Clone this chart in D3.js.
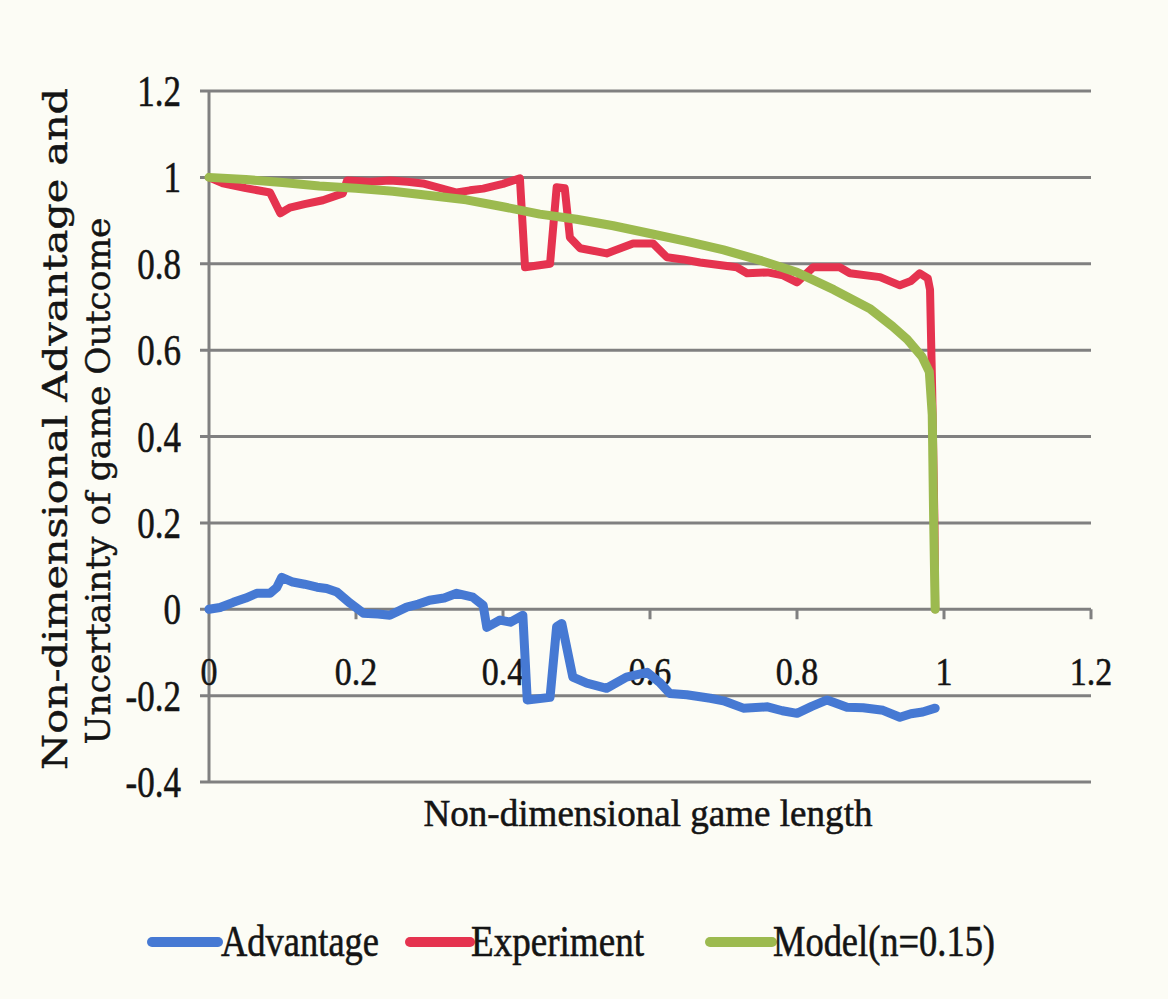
<!DOCTYPE html>
<html>
<head>
<meta charset="utf-8">
<script src="https://cdn.jsdelivr.net/npm/d3@7"></script>
<style>
  html, body { margin: 0; padding: 0; background: #fcfcf5; }
  svg { display: block; }
</style>
</head>
<body>
<svg id="chart" width="1168" height="999"></svg>
<script>
// ---- Data ----
const xTicks = [0, 0.2, 0.4, 0.6, 0.8, 1, 1.2];
const xTickLabels = ["0", "0.2", "0.4", "0.6", "0.8", "1", "1.2"];
const yTicks = [-0.4, -0.2, 0, 0.2, 0.4, 0.6, 0.8, 1, 1.2];
const yTickLabels = ["-0.4", "-0.2", "0", "0.2", "0.4", "0.6", "0.8", "1", "1.2"];

const seriesNames = ["Advantage", "Experiment", "Model(n=0.15)"];

const advantageX = [0, 0.015, 0.033, 0.05, 0.065, 0.083, 0.092, 0.099, 0.114, 0.13, 0.147, 0.16, 0.174, 0.192, 0.21, 0.23, 0.246, 0.269, 0.285, 0.30, 0.32, 0.337, 0.359, 0.373, 0.378, 0.396, 0.41, 0.427, 0.433, 0.464, 0.473, 0.48, 0.495, 0.514, 0.541, 0.568, 0.596, 0.614, 0.627, 0.65, 0.682, 0.70, 0.727, 0.76, 0.78, 0.80, 0.82, 0.841, 0.868, 0.89, 0.917, 0.94, 0.955, 0.971, 0.988];
const advantageY = [0.0, 0.004, 0.016, 0.026, 0.037, 0.037, 0.05, 0.074, 0.063, 0.058, 0.051, 0.048, 0.040, 0.014, -0.009, -0.011, -0.014, 0.005, 0.012, 0.021, 0.026, 0.037, 0.028, 0.009, -0.042, -0.025, -0.03, -0.014, -0.21, -0.204, -0.04, -0.033, -0.157, -0.171, -0.183, -0.157, -0.146, -0.171, -0.195, -0.198, -0.206, -0.212, -0.229, -0.226, -0.235, -0.241, -0.225, -0.21, -0.227, -0.228, -0.234, -0.25, -0.242, -0.238, -0.229];

const experimentX = [0, 0.019, 0.05, 0.083, 0.097, 0.11, 0.13, 0.155, 0.182, 0.188, 0.22, 0.246, 0.27, 0.291, 0.337, 0.355, 0.373, 0.40, 0.423, 0.43, 0.464, 0.473, 0.484, 0.491, 0.505, 0.541, 0.577, 0.604, 0.623, 0.645, 0.668, 0.718, 0.732, 0.76, 0.781, 0.80, 0.822, 0.858, 0.872, 0.913, 0.94, 0.955, 0.967, 0.978, 0.981, 0.984, 0.987, 0.988];
const experimentY = [1.0, 0.986, 0.975, 0.965, 0.917, 0.93, 0.938, 0.947, 0.963, 0.993, 0.99, 0.993, 0.99, 0.986, 0.965, 0.97, 0.974, 0.985, 0.998, 0.792, 0.80, 0.977, 0.975, 0.861, 0.836, 0.824, 0.847, 0.847, 0.815, 0.81, 0.803, 0.792, 0.778, 0.78, 0.773, 0.757, 0.792, 0.792, 0.778, 0.769, 0.75, 0.76, 0.778, 0.766, 0.74, 0.5, 0.2, 0.0];

const modelX = [0, 0.05, 0.1, 0.15, 0.2, 0.25, 0.3, 0.35, 0.4, 0.45, 0.5, 0.55, 0.6, 0.65, 0.7, 0.75, 0.8, 0.85, 0.9, 0.93, 0.95, 0.97, 0.98, 0.984, 0.986, 0.988];
const modelY = [1.0, 0.995, 0.988, 0.98, 0.975, 0.968, 0.958, 0.948, 0.932, 0.915, 0.903, 0.888, 0.870, 0.852, 0.832, 0.808, 0.78, 0.74, 0.695, 0.655, 0.625, 0.585, 0.55, 0.45, 0.2, 0.0];

const seriesColors = ["#4679d3", "#e5334f", "#9cba4f"];

// ---- Chart ----
const svg = d3.select("#chart");
const x = d3.scaleLinear().domain([0, 1.2]).range([209, 1091]);
const y = d3.scaleLinear().domain([-0.4, 1.2]).range([782, 91]);

const gridColor = "#808080";
const serif = "'Liberation Serif', 'Times New Roman', serif";
const ink = "#141414";

function inkText(sel) {
  return sel.attr("fill", ink).attr("stroke", ink).attr("stroke-width", 0.45);
}

// horizontal gridlines (with short tick stubs left of the axis)
svg.append("g").selectAll("line").data(yTicks).join("line")
  .attr("x1", x(0) - 9).attr("x2", x(1.2))
  .attr("y1", d => y(d)).attr("y2", d => y(d))
  .attr("stroke", gridColor).attr("stroke-width", 3);

// vertical axis line
svg.append("line")
  .attr("x1", x(0)).attr("x2", x(0))
  .attr("y1", y(1.2)).attr("y2", y(-0.4))
  .attr("stroke", gridColor).attr("stroke-width", 3);

// x tick marks at y = 0
svg.append("g").selectAll("line").data(xTicks.slice(1)).join("line")
  .attr("x1", d => x(d)).attr("x2", d => x(d))
  .attr("y1", y(0)).attr("y2", y(0) + 10)
  .attr("stroke", gridColor).attr("stroke-width", 3);

// y tick labels
inkText(svg.append("g").selectAll("text").data(yTicks).join("text")
  .attr("transform", d => `translate(181,${y(d)}) scale(1,1.27)`)
  .attr("text-anchor", "end")
  .attr("dominant-baseline", "central")
  .attr("font-family", serif).attr("font-size", 35)
  .text((d, i) => yTickLabels[i]));

// x tick labels
inkText(svg.append("g").selectAll("text").data(xTicks).join("text")
  .attr("transform", d => `translate(${x(d)},${y(0) + 62}) scale(1,1.2)`)
  .attr("text-anchor", "middle")
  .attr("dominant-baseline", "central")
  .attr("font-family", serif).attr("font-size", 34)
  .text((d, i) => xTickLabels[i]));

// axis titles
inkText(svg.append("text")
  .attr("transform", "translate(648,826) scale(1,1.18)")
  .attr("text-anchor", "middle")
  .attr("font-family", serif).attr("font-size", 32)
  .attr("textLength", 449).attr("lengthAdjust", "spacingAndGlyphs")
  .text("Non-dimensional game length"));

const yTitle = [
  { t: "Non-dimensional Advantage and", cx: 67, cy: 429, len: 682 },
  { t: "Uncertainty of game Outcome", cx: 110, cy: 481, len: 527 }
];
inkText(svg.append("g").selectAll("text").data(yTitle).join("text")
  .attr("transform", d => `translate(${d.cx},${d.cy}) rotate(-90)`)
  .attr("text-anchor", "middle")
  .attr("font-family", "'DejaVu Serif', serif").attr("font-size", 33)
  .attr("textLength", d => d.len).attr("lengthAdjust", "spacingAndGlyphs")
  .text(d => d.t));

// lines
const line = d3.line().x(d => x(d[0])).y(d => y(d[1]));
const seriesData = [
  advantageX.map((v, i) => [v, advantageY[i]]),
  experimentX.map((v, i) => [v, experimentY[i]]),
  modelX.map((v, i) => [v, modelY[i]])
];
const widths = [9, 8, 9];
svg.append("g").selectAll("path").data(seriesData).join("path")
  .attr("d", line)
  .attr("fill", "none")
  .attr("stroke", (d, i) => seriesColors[i])
  .attr("stroke-width", (d, i) => widths[i])
  .attr("stroke-linejoin", "round")
  .attr("stroke-linecap", "round");

// legend
const legendItems = [
  { sx1: 152, sx2: 218, tx: 221, len: 158 },
  { sx1: 410, sx2: 470, tx: 471, len: 173 },
  { sx1: 710, sx2: 772, tx: 773, len: 222 }
];
const lg = svg.append("g");
lg.selectAll("line").data(legendItems).join("line")
  .attr("x1", d => d.sx1).attr("x2", d => d.sx2)
  .attr("y1", 942).attr("y2", 942)
  .attr("stroke", (d, i) => seriesColors[i])
  .attr("stroke-width", 10)
  .attr("stroke-linecap", "round");
inkText(lg.selectAll("text").data(legendItems).join("text")
  .attr("transform", d => `translate(${d.tx},956) scale(1,1.3)`)
  .attr("font-family", serif).attr("font-size", 34)
  .attr("textLength", d => d.len).attr("lengthAdjust", "spacingAndGlyphs")
  .text((d, i) => seriesNames[i]));
</script>
</body>
</html>
